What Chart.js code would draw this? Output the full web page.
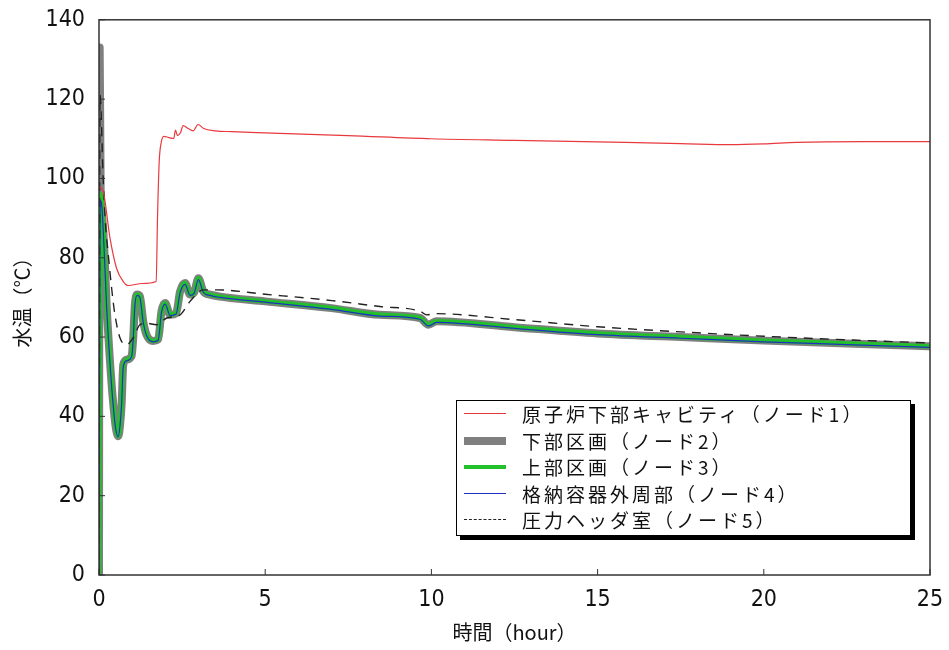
<!DOCTYPE html>
<html>
<head>
<meta charset="utf-8">
<script src="https://cdn.jsdelivr.net/npm/chart.js@4.4.1/dist/chart.umd.min.js"></script>
<style>
    body { margin: 0; background: #fff; }
    .contenedor { position: relative; width: 949px; height: 650px; }
    .leyenda {
        position: absolute; left: 456px; top: 400px; width: 453px; height: 134px;
        border: 1.5px solid #000; background: #fff; box-shadow: 4px 4px 0 #000;
        font-family: "Noto Sans CJK JP", sans-serif; font-size: 19px; color: #111;
    }
    .fila { position: absolute; left: 0; height: 26px; line-height: 26px; white-space: nowrap; }
    .muestra { position: absolute; left: 7px; width: 42px; }
    .texto { position: absolute; left: 65px; letter-spacing: 3px; }
</style>
</head>
<body>
<div class="contenedor">
    <canvas id="grafica" width="949" height="650"></canvas>
    <div class="leyenda" id="leyenda"></div>
</div>
<script>
(function(){

    const etiquetas = [
        '原子炉下部キャビティ（ノード1）',
        '下部区画（ノード2）',
        '上部区画（ノード3）',
        '格納容器外周部（ノード4）',
        '圧力ヘッダ室（ノード5）'
    ];
    const colores = ['#e8393e', '#7f7f7f', '#22c02a', '#2030c0', '#222222'];

    const ticksX = [0, 5, 10, 15, 20, 25];
    const ticksY = [0, 20, 40, 60, 80, 100, 120, 140];

    // ノード1
    const tiempo1 = [0, 0.13, 0.33, 0.53, 0.73, 0.88, 1.3, 1.72, 1.76, 1.81, 1.87, 1.95, 2.1, 2.25, 2.3, 2.36, 2.45, 2.53, 2.68, 2.83, 2.98, 3.15, 3.5, 4, 5, 7.5, 10, 12.5, 15, 17.5, 19, 20, 21, 23, 25];
    const temp1 = [98, 96.6, 85, 77.3, 74, 73, 73.5, 74, 90, 104, 109, 110.6, 110.3, 110.1, 112.2, 110.8, 111.5, 113.3, 112.6, 112, 113.6, 112.6, 112, 111.8, 111.5, 110.8, 110, 109.6, 109.2, 108.8, 108.5, 108.7, 109.1, 109.3, 109.3];

    // ノード2
    const tiempo2 = [0, 0.02, 0.05, 0.1, 0.16, 0.23, 0.35, 0.43, 0.5, 0.58, 0.63, 0.68, 0.73, 0.83, 0.98, 1.03, 1.08, 1.15, 1.23, 1.33, 1.43, 1.63, 1.78, 1.88, 1.99, 2.14, 2.32, 2.44, 2.59, 2.74, 2.86, 2.99, 3.14, 3.34, 3.64, 5, 7, 8.45, 9.66, 9.91, 10.16, 12.5, 15, 17.5, 20, 22.5, 25];
    const temp2 = [0, 133, 97, 90, 82, 68, 51.5, 43, 37.5, 35, 37.5, 43, 53, 54.3, 55.2, 59.8, 68.2, 70.7, 70.3, 64, 60.6, 59, 59.4, 66.5, 68.6, 65.6, 66, 71.5, 73.6, 70.7, 71.2, 74.8, 71.5, 70.7, 70.2, 69, 67.3, 65.6, 64.8, 63.1, 64, 62.5, 60.9, 60, 59.1, 58.4, 57.7];

    // ノード3
    const tiempo3 = [0, 0.04, 0.08, 0.16, 0.23, 0.35, 0.43, 0.5, 0.58, 0.63, 0.68, 0.73, 0.83, 0.98, 1.03, 1.08, 1.15, 1.23, 1.33, 1.43, 1.63, 1.78, 1.88, 1.99, 2.14, 2.32, 2.44, 2.59, 2.74, 2.86, 2.99, 3.14, 3.34, 3.64, 5, 7, 8.45, 9.66, 9.91, 10.16, 12.5, 15, 17.5, 20, 22.5, 25];
    const temp3 = [0, 96, 95, 82, 68, 51.5, 43, 37.5, 35, 37.5, 43, 53, 54.3, 55.2, 59.8, 68.2, 70.7, 70.3, 64, 60.6, 59, 59.4, 66.5, 68.6, 65.6, 66, 71.5, 73.6, 70.7, 71.2, 74.8, 71.5, 70.7, 70.2, 69, 67.3, 65.6, 64.8, 63.1, 64, 62.5, 60.9, 60, 59.1, 58.4, 57.7];

    // ノード4
    const tiempo4 = [0, 0.04, 0.08, 0.16, 0.23, 0.35, 0.43, 0.5, 0.58, 0.63, 0.68, 0.73, 0.83, 0.98, 1.03, 1.08, 1.15, 1.23, 1.33, 1.43, 1.63, 1.78, 1.88, 1.99, 2.14, 2.32, 2.44, 2.59, 2.74, 2.86, 2.99, 3.14, 3.34, 3.64, 5, 7, 8.45, 9.66, 9.91, 10.16, 12.5, 15, 17.5, 20, 22.5, 25];
    const temp4 = [0, 94.5, 93.5, 81, 67.5, 51, 42.5, 37, 34.8, 37.5, 43, 52.5, 54, 55, 59.5, 68, 70.5, 70, 63.8, 60.4, 58.8, 59.2, 66.2, 68.3, 65.4, 65.8, 71.2, 73.3, 70.5, 71, 74.5, 71.3, 70.5, 70, 68.8, 67, 65.3, 64.5, 62.8, 63.7, 62.2, 60.6, 59.7, 58.8, 58.1, 57.4];

    // ノード5
    const tiempo5 = [0, 0.03, 0.13, 0.2, 0.28, 0.38, 0.48, 0.63, 0.83, 1.03, 1.23, 1.43, 1.73, 2.04, 2.44, 2.74, 3.14, 3.54, 5, 7, 8.45, 9.66, 9.86, 10.1, 12.5, 15, 17.5, 20, 22.5, 25];
    const temp5 = [0, 121, 99, 88, 80.7, 72.3, 65.6, 59.8, 58.1, 59.8, 63.1, 63.5, 63.1, 64.8, 65.6, 69, 71.9, 71.9, 70.8, 69.2, 67.7, 66.5, 65.6, 65.9, 64.4, 62.6, 61.3, 60.2, 59.3, 58.5];

    function puntos(tiempos, temps) {
        return tiempos.map((t, i) => ({ x: t, y: temps[i] }));
    }

    const estilos = [
        { borderWidth: 1.2, order: 1 },
        { borderWidth: 8, order: 5 },
        { borderWidth: 4.5, order: 4 },
        { borderWidth: 1.2, order: 3 },
        { borderWidth: 1.4, order: 2, borderDash: [9, 7] }
    ];
    const series = [
        puntos(tiempo1, temp1),
        puntos(tiempo2, temp2),
        puntos(tiempo3, temp3),
        puntos(tiempo4, temp4),
        puntos(tiempo5, temp5)
    ];

    const datasets = series.map((data, i) => Object.assign({
        label: etiquetas[i],
        data: data,
        borderColor: colores[i],
        backgroundColor: colores[i],
        pointRadius: 0,
        fill: false,
        cubicInterpolationMode: 'monotone',
        borderCapStyle: 'butt',
        borderJoinStyle: 'round'
    }, estilos[i]));

    // marco y ticks hacia dentro
    const marco = {
        id: 'marco',
        afterDatasetsDraw(chart) {
            const { ctx, chartArea: a, scales } = chart;
            ctx.save();
            ctx.strokeStyle = '#333';
            ctx.lineWidth = 1.5;
            ctx.strokeRect(a.left, a.top, a.right - a.left, a.bottom - a.top);
            ctx.beginPath();
            ticksX.forEach(v => {
                const x = scales.x.getPixelForValue(v);
                ctx.moveTo(x, a.bottom);
                ctx.lineTo(x, a.bottom - 6);
            });
            ticksY.forEach(v => {
                const y = scales.y.getPixelForValue(v);
                ctx.moveTo(a.left, y);
                ctx.lineTo(a.left + 6, y);
            });
            ctx.lineWidth = 1;
            ctx.stroke();
            ctx.restore();
        }
    };

    const fuenteTicks = { family: '"Liberation Sans Narrow", "DejaVu Sans Condensed", sans-serif', size: 23 };
    const fuenteTitulo = { family: '"Noto Sans CJK JP", sans-serif', size: 20 };

    new Chart(document.getElementById('grafica'), {
        type: 'line',
        data: { datasets: datasets },
        options: {
            responsive: false,
            animation: false,
            layout: { padding: { left: 0, top: 18, right: 19, bottom: 0 } },
            plugins: {
                legend: { display: false },
                tooltip: { enabled: false }
            },
            scales: {
                x: {
                    type: 'linear',
                    min: 0,
                    max: 25,
                    afterBuildTicks: s => { s.ticks = ticksX.map(v => ({ value: v })); },
                    afterFit: s => { s.height = 75; },
                    grid: { display: false },
                    border: { display: false },
                    ticks: { color: '#111', font: fuenteTicks, padding: 3, maxRotation: 0 },
                    title: { display: true, text: '時間（hour）', color: '#111', font: fuenteTitulo, padding: { top: 0, bottom: 6 } }
                },
                y: {
                    type: 'linear',
                    min: 0,
                    max: 140,
                    afterBuildTicks: s => { s.ticks = ticksY.map(v => ({ value: v })); },
                    afterFit: s => { s.width = 99; },
                    grid: { display: false },
                    border: { display: false },
                    ticks: { color: '#111', font: fuenteTicks, padding: 6 },
                    title: { display: true, text: '水温（℃）', color: '#111', font: fuenteTitulo, padding: { top: 10, bottom: 0 } }
                }
            }
        },
        plugins: [marco]
    });

    // leyenda
    const leyenda = document.getElementById('leyenda');
    const muestras = [
        'border-top: 1.2px solid ' + colores[0],
        'border-top: 8px solid ' + colores[1],
        'border-top: 4.5px solid ' + colores[2],
        'border-top: 1.2px solid ' + colores[3],
        'border-top: 1.5px dashed ' + colores[4]
    ];
    etiquetas.forEach((texto, i) => {
        const fila = document.createElement('div');
        fila.className = 'fila';
        fila.style.top = (0 + i * 26.5) + 'px';
        fila.style.width = '100%';
        const linea = document.createElement('div');
        linea.className = 'muestra';
        const grosor = [1.2, 8, 4.5, 1.2, 1.5][i];
        linea.style.cssText = muestras[i] + '; top:' + (13 - grosor / 2) + 'px';
        const span = document.createElement('span');
        span.className = 'texto';
        span.textContent = texto;
        fila.appendChild(linea);
        fila.appendChild(span);
        leyenda.appendChild(fila);
    });

})();
</script>
</body>
</html>
